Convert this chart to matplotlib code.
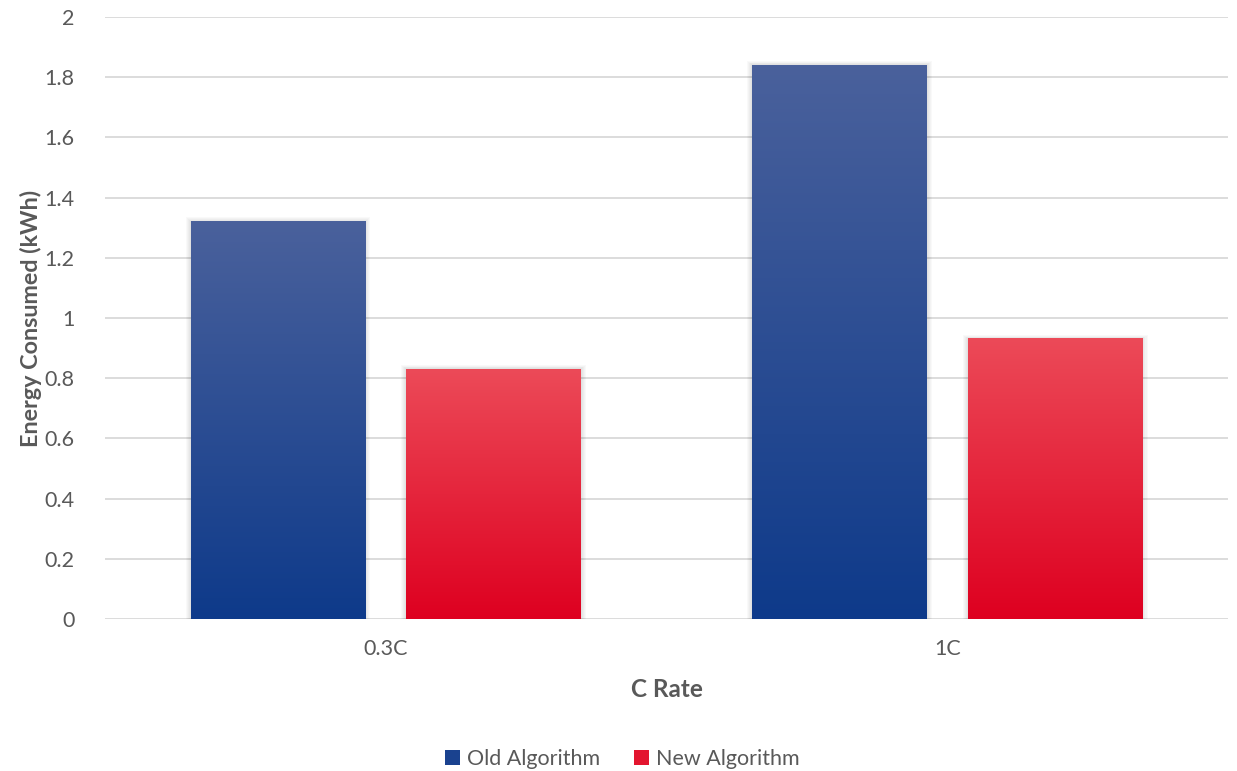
import numpy as np
import matplotlib.pyplot as plt
from matplotlib.colors import LinearSegmentedColormap
from matplotlib.patches import Patch, Rectangle

plt.rcParams['font.family'] = ['Lato', 'DejaVu Sans']

categories = ['0.3C', '1C']
old_algo = [1.32, 1.84]
new_algo = [0.83, 0.93]
y_ticks = [0, 0.2, 0.4, 0.6, 0.8, 1, 1.2, 1.4, 1.6, 1.8, 2]
y_labels = ['0', '0.2', '0.4', '0.6', '0.8', '1', '1.2', '1.4', '1.6', '1.8', '2']

text_col = '#595959'
blue_top, blue_bot = '#4A619C', '#0E3A8A'
red_top, red_bot = '#EC4A58', '#DE0020'

fig = plt.figure(figsize=(12.37, 7.71), dpi=100)
ax = fig.add_axes([0.0849, 0.197, 0.9079, 0.781])

x = np.arange(len(categories))
width = 0.311
offset = 0.192


def gradient_bars(xpos, heights, c_top, c_bot):
    cmap = LinearSegmentedColormap.from_list('g', [c_bot, c_top])
    grad = np.linspace(0, 1, 256).reshape(-1, 1)
    for xc, h in zip(xpos, heights):
        x0 = xc - width / 2
        # soft shadow, a few faint layers
        for k in range(1, 6):
            d = 0.0018 * k
            ax.add_patch(Rectangle((x0 - d, 0), width + 2 * d, h + d * 1.6,
                                   color='#000000', alpha=0.025, lw=0, zorder=2))
        ax.imshow(grad, cmap=cmap, origin='lower', aspect='auto',
                  extent=(x0, x0 + width, 0, h), zorder=3, interpolation='bilinear')


gradient_bars(x - offset, old_algo, blue_top, blue_bot)
gradient_bars(x + offset, new_algo, red_top, red_bot)

ax.set_xlim(-0.5, 1.5)
ax.set_ylim(0, 2)
ax.set_xticks(x)
ax.set_xticklabels(categories)
ax.set_yticks(y_ticks)
ax.set_yticklabels(y_labels)
ax.yaxis.grid(True, color='#D9D9D9', lw=1.3, zorder=0)
ax.set_axisbelow(True)
for s in ax.spines.values():
    s.set_visible(False)
ax.tick_params(axis='both', length=0, labelsize=15.5, labelcolor=text_col)
ax.tick_params(axis='x', pad=14)
ax.tick_params(axis='y', pad=22)

ax.set_xlabel('C Rate', fontsize=17.5, fontweight='bold', color=text_col, labelpad=14)
ax.set_ylabel('Energy Consumed (kWh)', fontsize=16.8, fontweight='bold', color=text_col, labelpad=2)

handles = [Patch(facecolor='#1A428F', label='Old Algorithm'),
           Patch(facecolor='#E3152F', label='New Algorithm')]
fig.legend(handles=handles, loc='center', bbox_to_anchor=(0.503, 0.016), ncol=2,
           frameon=False, fontsize=15.5, labelcolor=text_col, handlelength=0.7,
           handleheight=0.7, handletextpad=0.3, columnspacing=1.6)

fig.savefig('out.png', dpi=100)
